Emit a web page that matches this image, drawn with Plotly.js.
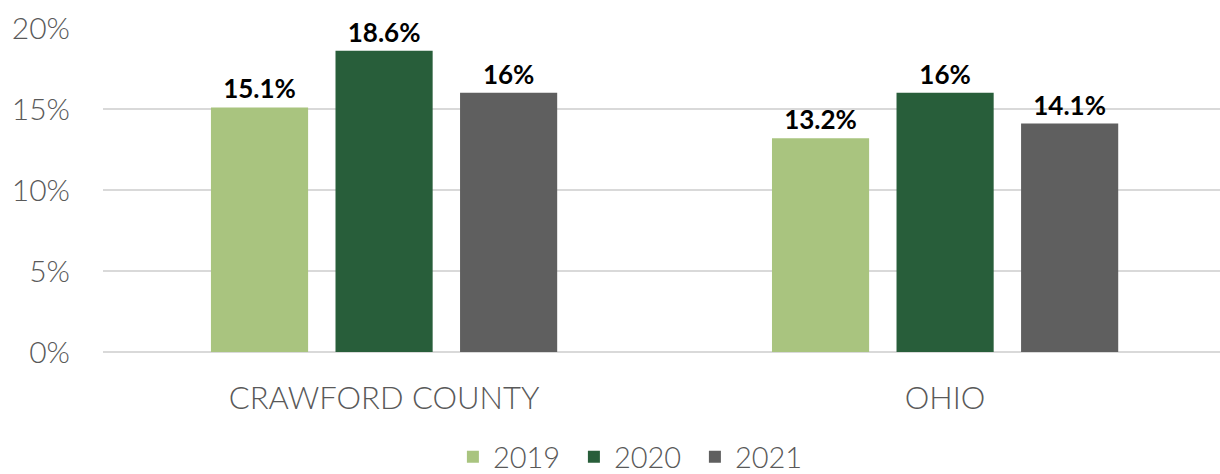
<!DOCTYPE html>
<html>
<head>
<meta charset="utf-8">
<script src="https://cdn.plot.ly/plotly-3.0.1.min.js"></script>
<style>html,body{margin:0;padding:0;background:#fff;}#chart{width:1220px;height:474px;}</style>
</head>
<body>
<div id="chart"></div>
<script>
const categories = ["CRAWFORD COUNTY", "OHIO"];
const years = ["2019", "2020", "2021"];
const values2019 = [15.1, 13.2];
const values2020 = [18.6, 16];
const values2021 = [16, 14.1];
const colors = ["#A9C47F", "#285E3A", "#5F5F5F"];
const tickVals = [0, 5, 10, 15, 20];
const tickText = ["0%", "5%", "10%", "15%", "20%"];

const series = [values2019, values2020, values2021];
const traces = series.map((vals, i) => ({
  type: "bar",
  name: years[i],
  x: categories,
  y: vals,
  marker: {color: colors[i]},
  text: vals.map(v => v + "%"),
  textposition: "outside",
  cliponaxis: false,
  textfont: {family: "Lato, sans-serif", size: 26, color: "#000000", weight: 700},
  hoverinfo: "none"
}));

const layout = {
  width: 1220, height: 474,
  margin: {l: 103, r: 0, t: 28, b: 122, autoexpand: false},
  paper_bgcolor: "#ffffff", plot_bgcolor: "#ffffff",
  barmode: "group",
  bargap: 0.334,
  bargroupgap: 0.22,
  font: {family: "Lato, sans-serif", color: "#595959"},
  xaxis: {
    range: [-0.501, 1.490],
    tickfont: {size: 31, color: "#595959", family: "Lato, sans-serif", weight: 300},
    ticks: "outside", ticklen: 19, tickcolor: "rgba(0,0,0,0)",
    showline: false, showgrid: false, zeroline: false
  },
  yaxis: {
    range: [0, 20],
    tickvals: tickVals, ticktext: tickText,
    tickfont: {size: 30, color: "#595959", family: "Lato, sans-serif", weight: 300},
    ticks: "outside", ticklen: 26, tickcolor: "rgba(0,0,0,0)",
    showgrid: true, gridcolor: "#D9D9D9", gridwidth: 2,
    zeroline: true, zerolinecolor: "#D9D9D9", zerolinewidth: 2,
    showline: false
  },
  showlegend: true,
  legend: {
    orientation: "h",
    xref: "container", yref: "container",
    x: 0.52, xanchor: "center",
    y: 0.09, yanchor: "top",
    font: {size: 29, color: "#595959", family: "Lato, sans-serif", weight: 300},
    itemwidth: 30, entrywidth: 76, entrywidthmode: "pixels", traceorder: "normal"
  }
};

Plotly.newPlot("chart", traces, layout, {displayModeBar: false, staticPlot: true});
</script>
</body>
</html>
